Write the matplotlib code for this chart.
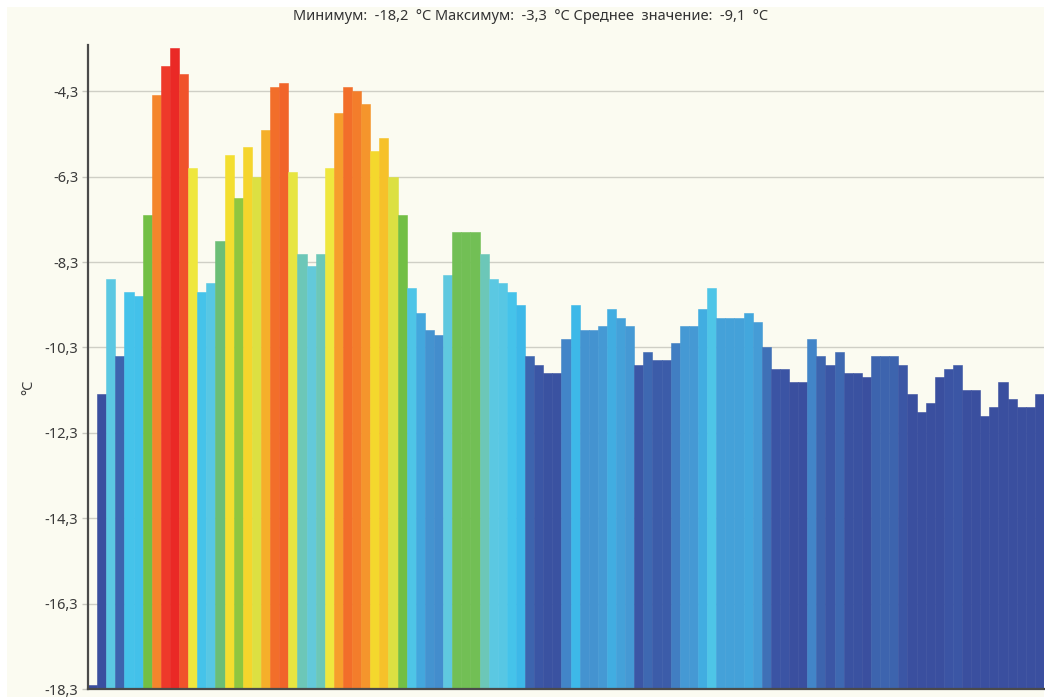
import numpy as np
import matplotlib.pyplot as plt
from matplotlib.colors import LinearSegmentedColormap, Normalize
from matplotlib.patches import Rectangle

# Daily temperatures, °C (one bar per day)
temps = [
    -18.2, -11.4, -8.7, -10.5, -9.0, -9.1, -7.2, -4.4, -3.7, -3.3,
    -3.9, -6.1, -9.0, -8.8, -7.8, -5.8, -6.8, -5.6, -6.3, -5.2,
    -4.2, -4.1, -6.2, -8.1, -8.4, -8.1, -6.1, -4.8, -4.2, -4.3,
    -4.6, -5.7, -5.4, -6.3, -7.2, -8.9, -9.5, -9.9, -10.0, -8.6,
    -7.6, -7.6, -7.6, -8.1, -8.7, -8.8, -9.0, -9.3, -10.5, -10.7,
    -10.9, -10.9, -10.1, -9.3, -9.9, -9.9, -9.8, -9.4, -9.6, -9.8,
    -10.7, -10.4, -10.6, -10.6, -10.2, -9.8, -9.8, -9.4, -8.9, -9.6,
    -9.6, -9.6, -9.5, -9.7, -10.3, -10.8, -10.8, -11.1, -11.1, -10.1,
    -10.5, -10.7, -10.4, -10.9, -10.9, -11.0, -10.5, -10.5, -10.5, -10.7,
    -11.4, -11.8, -11.6, -11.0, -10.8, -10.7, -11.3, -11.3, -11.9, -11.7,
    -11.1, -11.5, -11.7, -11.7, -11.4,
]
y_ticks = [-18.3, -16.3, -14.3, -12.3, -10.3, -8.3, -6.3, -4.3]
y_min, y_max = -18.3, -3.22

# temperature -> colour scale (cold blue ... warm red)
scale_vals = [-18.3, -11.0, -10.7, -10.5, -10.3, -10.1, -9.8, -9.5, -9.3, -9.0,
              -8.7, -8.35, -8.1, -7.8, -7.6, -7.2, -6.8, -6.3, -6.1, -5.8,
              -5.6, -5.4, -5.2, -4.8, -4.4, -4.2, -3.9, -3.7, -3.3]
scale_cols = ['#3A4D9E', '#3A4F9F', '#3B56A5', '#3D62AD', '#3F70B7', '#4288CA',
              '#4598D3', '#44A5DC', '#3DB8E8', '#45C3EA', '#5CC8E2', '#65C9D8',
              '#6CC8C0', '#6ABE7C', '#72BF55', '#71BF45', '#8BC43F', '#DCE042',
              '#EEE840', '#F3E030', '#F5D52C', '#F6C52A', '#F5B02A', '#F6A02C',
              '#F58A2C', '#F2702A', '#F0552B', '#EE3B2B', '#EA2926']
lo, hi = scale_vals[0], scale_vals[-1]
cmap = LinearSegmentedColormap.from_list(
    'temp', [((v - lo) / (hi - lo), c) for v, c in zip(scale_vals, scale_cols)])
norm = Normalize(lo, hi)

cream = '#FBFBF1'
W, H = 1045, 697
fig = plt.figure(figsize=(W / 100, H / 100), dpi=100, facecolor='white')
fig.patches.append(Rectangle((7 / W, 0), (1044 - 7) / W, (H - 7) / H,
                             transform=fig.transFigure, facecolor=cream,
                             edgecolor='none', zorder=-10))

ax = fig.add_axes([88 / W, (H - 689.3) / H, (1044 - 88) / W, (689.3 - 45) / H])
ax.set_facecolor(cream)

x = np.arange(len(temps))
vals = np.array(temps)
cols = cmap(norm(vals))
ax.bar(x, vals - y_min, bottom=y_min, width=1.0, color=cols,
       edgecolor=cols, linewidth=0.4, zorder=2)

ax.set_xlim(-0.5, len(temps) - 0.5)
ax.set_ylim(y_min, y_max)
ax.set_yticks(y_ticks)
ax.set_yticklabels([f'{t:.1f}'.replace('.', ',') for t in y_ticks])
ax.set_xticks([])
ax.grid(axis='y', color='#CFCFC6', linewidth=1.0, zorder=0)
ax.set_axisbelow(True)

for s in ('top', 'right'):
    ax.spines[s].set_visible(False)
for s in ('left', 'bottom'):
    ax.spines[s].set_color('#4A4A4A')
    ax.spines[s].set_linewidth(1.6)
    ax.spines[s].set_zorder(3)

font = 'Noto Sans'
fs = 10.5
ax.tick_params(axis='y', direction='out', length=4, width=1, color='#C8C8C0',
               labelsize=fs, labelcolor='#3A3A3A', pad=3)
for lbl in ax.get_yticklabels():
    lbl.set_fontfamily(font)

# unit label on the left
fig.text(29 / W, 1 - 387 / H, '°C', rotation=90, ha='center', va='center',
         fontsize=fs, color='#3A3A3A', family=font)

def fmt(v):
    return f'{v:.1f}'.replace('.', ',')

title = (f'Минимум:  {fmt(vals.min())}  °C Максимум:  {fmt(vals.max())}  °C '
         f'Среднее  значение:  {fmt(vals.mean())}  °C')
fig.text(531 / W, 1 - 16 / H, title, ha='center', va='center',
         fontsize=fs, color='#333333', family=font)

fig.savefig('out.png', dpi=100, facecolor=fig.get_facecolor())
